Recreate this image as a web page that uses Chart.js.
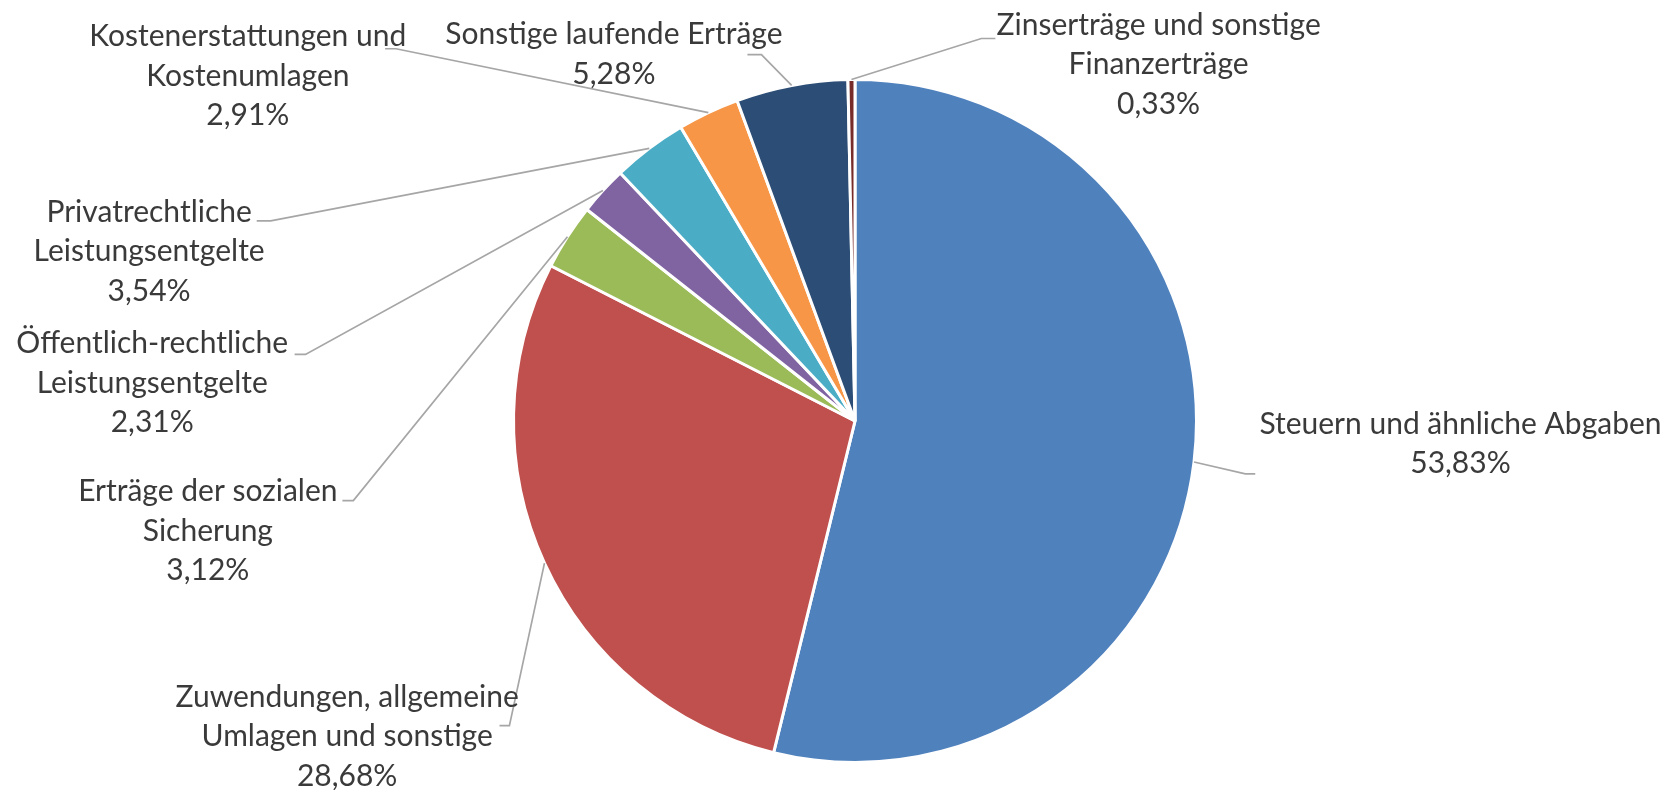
<!DOCTYPE html>
<html>
<head>
<meta charset="utf-8">
<script src="https://cdn.jsdelivr.net/npm/chart.js@4"></script>
<style>
  html, body { margin: 0; padding: 0; background: #fff; }
  #wrap { width: 1673px; height: 790px; }
</style>
</head>
<body>
<div id="wrap"><canvas id="pieChart"></canvas></div>
<script>
// categories (one array entry per text line) and shares in percent
const categories = [
    ['Steuern und ähnliche Abgaben'],
    ['Zuwendungen, allgemeine', 'Umlagen und sonstige'],
    ['Erträge der sozialen', 'Sicherung'],
    ['Öffentlich-rechtliche', 'Leistungsentgelte'],
    ['Privatrechtliche', 'Leistungsentgelte'],
    ['Kostenerstattungen und', 'Kostenumlagen'],
    ['Sonstige laufende Erträge'],
    ['Zinserträge und sonstige', 'Finanzerträge']
];
const shares = [53.83, 28.68, 3.12, 2.31, 3.54, 2.91, 5.28, 0.33];
const sliceColors = ['#4F81BD', '#C0504D', '#9BBB59', '#8064A2', '#4BACC6', '#F79646', '#2C4D75', '#772C2A'];

// label placement, in units of the pie radius, relative to the pie centre
// t = centre of first text line, e = end of leader line, k = elbow
const labelLayout = [
    { t: [1.773, 0.009],  k: [1.143, 0.155],   e: [1.172, 0.155] },
    { t: [-1.487, 0.808], k: [-1.012, 0.892],  e: [-1.041, 0.892] },
    { t: [-1.895, 0.207], k: [-1.469, 0.233],  e: [-1.501, 0.233] },
    { t: [-2.058, -0.227], k: [-1.609, -0.195], e: [-1.641, -0.195] },
    { t: [-2.067, -0.612], k: [-1.711, -0.586], e: [-1.752, -0.586] },
    { t: [-1.778, -1.125], k: [-1.344, -1.090], e: [-1.376, -1.090] },
    { t: [-0.706, -1.131], k: [-0.274, -1.073], e: [-0.315, -1.073] },
    { t: [0.889, -1.160],  k: [0.370, -1.120],  e: [0.411, -1.120] }
];

const fmt = v => v.toFixed(2).replace('.', ',') + '%';

const leaderLabels = {
    id: 'leaderLabels',
    afterDatasetsDraw(chart) {
        const ctx = chart.ctx;
        const meta = chart.getDatasetMeta(0);
        ctx.save();
        meta.data.forEach((arc, i) => {
            const { x, y, outerRadius, startAngle, endAngle } = arc.getProps(['x', 'y', 'outerRadius', 'startAngle', 'endAngle'], true);
            const mid = (startAngle + endAngle) / 2;
            const r = outerRadius;
            const lay = labelLayout[i];
            // leader line
            ctx.strokeStyle = '#A6A6A6';
            ctx.lineWidth = 1.7;
            ctx.beginPath();
            ctx.moveTo(x + Math.cos(mid) * r, y + Math.sin(mid) * r);
            ctx.lineTo(x + lay.k[0] * r, y + lay.k[1] * r);
            ctx.lineTo(x + lay.e[0] * r, y + lay.e[1] * r);
            ctx.stroke();
            // text
            const lines = chart.data.labels[i].concat([fmt(shares[i])]);
            ctx.fillStyle = '#3a3a3a';
            ctx.font = '30px Lato';
            ctx.textAlign = 'center';
            ctx.textBaseline = 'middle';
            lines.forEach((line, j) => {
                ctx.fillText(line, x + lay.t[0] * r, y + lay.t[1] * r + j * 39.5);
            });
        });
        ctx.restore();
    }
};

const pieCtx = document.getElementById('pieChart').getContext('2d');
new Chart(pieCtx, {
    type: 'pie',
    data: {
        labels: categories,
        datasets: [{
            data: shares,
            backgroundColor: sliceColors,
            borderColor: '#ffffff',
            borderWidth: 3
        }]
    },
    options: {
        responsive: true,
        maintainAspectRatio: false,
        animation: false,
        layout: { padding: { left: 512, right: 475, top: 78, bottom: 26 } },
        plugins: {
            legend: { display: false },
            tooltip: { enabled: false }
        }
    },
    plugins: [leaderLabels]
});
</script>
</body>
</html>
